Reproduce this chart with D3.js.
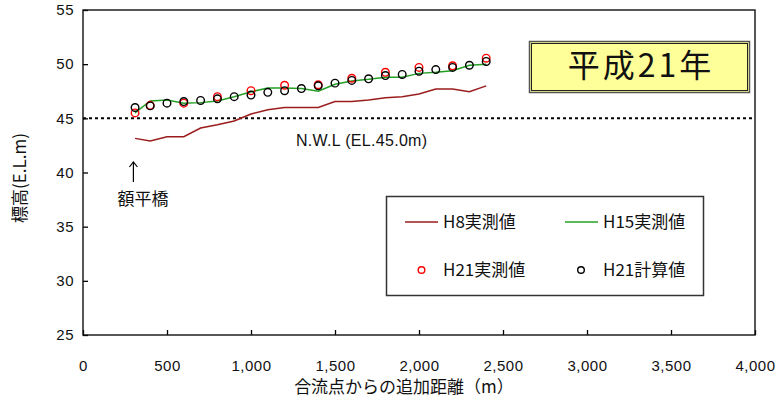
<!DOCTYPE html>
<html>
<head>
<meta charset="utf-8">
<script src="https://cdn.jsdelivr.net/npm/d3@7"></script>
<style>
  html, body { margin: 0; padding: 0; background: #fff; }
  svg { display: block; }
  .num { font-family: "Liberation Sans", Arial, sans-serif; }
  .jp { font-family: "Noto Sans CJK JP", "Liberation Sans", sans-serif; }
</style>
</head>
<body>
<script>
// Longitudinal riverbed profile: distance from the confluence vs elevation
const xTicks = [0, 500, 1000, 1500, 2000, 2500, 3000, 3500, 4000];
const yTicks = [25, 30, 35, 40, 45, 50, 55];

// H8 measured bed (line)
const h8Dist = [310, 400, 500, 600, 700, 800, 900, 1000, 1100, 1200, 1300, 1400, 1500, 1600, 1700, 1800, 1900, 2000, 2100, 2200, 2300, 2400];
const h8Elev = [43.15, 42.9, 43.3, 43.3, 44.1, 44.4, 44.75, 45.4, 45.8, 46.0, 46.0, 46.0, 46.55, 46.55, 46.7, 46.9, 47.0, 47.25, 47.7, 47.7, 47.45, 48.0];

// H15 measured bed (line)
const h15Dist = [310, 400, 500, 600, 700, 800, 900, 1000, 1100, 1200, 1300, 1400, 1500, 1600, 1700, 1800, 1900, 2000, 2100, 2200, 2300, 2400];
const h15Elev = [45.5, 46.6, 46.7, 46.4, 46.45, 46.6, 47.0, 47.45, 47.8, 47.8, 47.75, 47.5, 48.15, 48.45, 48.6, 48.8, 48.8, 49.15, 49.25, 49.4, 49.9, 50.0];

// H21 measured bed (red circles)
const h21MeasDist = [310, 400, 600, 800, 1000, 1200, 1400, 1600, 1800, 2000, 2200, 2400];
const h21MeasElev = [45.5, 46.2, 46.4, 47.0, 47.55, 48.05, 48.1, 48.7, 49.25, 49.7, 49.85, 50.55];

// H21 computed bed (black circles)
const h21CalcDist = [310, 400, 500, 600, 700, 800, 900, 1000, 1100, 1200, 1300, 1400, 1500, 1600, 1700, 1800, 1900, 2000, 2100, 2200, 2300, 2400];
const h21CalcElev = [46.0, 46.15, 46.4, 46.55, 46.65, 46.8, 47.0, 47.15, 47.4, 47.55, 47.75, 48.0, 48.25, 48.5, 48.65, 48.95, 49.05, 49.35, 49.5, 49.7, 49.9, 50.25];

const nwl = 45.0;
const bridgeDist = 300;

const W = 776, H = 399;
const plot = { left: 83, top: 10, right: 755, bottom: 335 };

const svg = d3.select("body").append("svg").attr("width", W).attr("height", H);

const x = d3.scaleLinear().domain([0, 4000]).range([plot.left, plot.right]);
const y = d3.scaleLinear().domain([25, 55]).range([plot.bottom, plot.top]);

const fmt = d3.format(",");

// axes with inward ticks
const gy = svg.append("g").attr("transform", `translate(${plot.left},0)`)
  .call(d3.axisLeft(y).tickValues(yTicks).tickSizeInner(-5).tickSizeOuter(0).tickPadding(9));
const gx = svg.append("g").attr("transform", `translate(0,${plot.bottom})`)
  .call(d3.axisBottom(x).tickValues(xTicks).tickFormat(fmt).tickSizeInner(-5).tickSizeOuter(0).tickPadding(25));
[gx, gy].forEach(g => {
  g.select(".domain").remove();
  g.selectAll(".tick line").attr("stroke", "#000").attr("stroke-width", 1.3);
  g.selectAll(".tick text").attr("class", "num").attr("fill", "#111")
    .style("font-size", "15px").style("letter-spacing", "0.5px");
});
gx.selectAll(".tick text").attr("dy", "0.71em");

// plot frame
svg.append("rect")
  .attr("x", plot.left).attr("y", plot.top)
  .attr("width", plot.right - plot.left).attr("height", plot.bottom - plot.top)
  .attr("fill", "none").attr("stroke", "#111").attr("stroke-width", 1.4);

// normal water level
svg.append("line")
  .attr("x1", plot.left).attr("x2", plot.right)
  .attr("y1", y(nwl)).attr("y2", y(nwl))
  .attr("stroke", "#000").attr("stroke-width", 2).attr("stroke-dasharray", "3,3");
svg.append("text")
  .attr("x", 296).attr("y", 146)
  .style("font-family", "'Liberation Sans', Arial, sans-serif")
  .style("font-size", "16px").style("letter-spacing", "0.3px").attr("fill", "#111")
  .text("N.W.L (EL.45.0m)");

// bridge annotation
const bx = x(bridgeDist);
svg.append("line").attr("x1", bx).attr("x2", bx).attr("y1", 162).attr("y2", 182)
  .attr("stroke", "#000").attr("stroke-width", 1.2);
svg.append("path").attr("d", `M${bx - 4},${167} L${bx},${162} L${bx + 4},${167}`)
  .attr("fill", "none").attr("stroke", "#000").attr("stroke-width", 1.2);
svg.append("text").attr("class", "jp")
  .attr("x", 143).attr("y", 205).attr("text-anchor", "middle")
  .style("font-size", "17px").attr("fill", "#111").text("額平橋");

// series
const line = d3.line().x(d => x(d[0])).y(d => y(d[1]));
const zip = (a, b) => a.map((v, i) => [v, b[i]]);

svg.append("path").datum(zip(h8Dist, h8Elev)).attr("d", line)
  .attr("fill", "none").attr("stroke", "#9b1c1c").attr("stroke-width", 1.5);
svg.append("path").datum(zip(h15Dist, h15Elev)).attr("d", line)
  .attr("fill", "none").attr("stroke", "#24a024").attr("stroke-width", 1.5);

svg.append("g").selectAll("circle").data(zip(h21MeasDist, h21MeasElev)).join("circle")
  .attr("cx", d => x(d[0])).attr("cy", d => y(d[1])).attr("r", 3.8)
  .attr("fill", "none").attr("stroke", "#ff0000").attr("stroke-width", 1.4);
svg.append("g").selectAll("circle").data(zip(h21CalcDist, h21CalcElev)).join("circle")
  .attr("cx", d => x(d[0])).attr("cy", d => y(d[1])).attr("r", 3.8)
  .attr("fill", "none").attr("stroke", "#000").attr("stroke-width", 1.4);

// axis titles
svg.append("text").attr("class", "jp")
  .attr("x", 404).attr("y", 393).attr("text-anchor", "middle")
  .style("font-size", "17px").attr("fill", "#111").text("合流点からの追加距離（m）");
svg.append("text").attr("class", "jp")
  .attr("transform", "translate(26,178) rotate(-90)").attr("text-anchor", "middle")
  .style("font-size", "17px").attr("fill", "#111").text("標高(E.L.m)");

// year label box
const tb = svg.append("g");
tb.append("rect").attr("x", 529.5).attr("y", 41.5).attr("width", 220).attr("height", 51)
  .attr("fill", "#ffff99").attr("stroke", "#555").attr("stroke-width", 1.5);
tb.append("rect").attr("x", 531.5).attr("y", 43.5).attr("width", 216).attr("height", 47)
  .attr("fill", "none").attr("stroke", "#222").attr("stroke-width", 1);
tb.append("text").attr("class", "jp")
  .attr("x", 641).attr("y", 77).attr("text-anchor", "middle")
  .style("font-size", "32px").style("letter-spacing", "3px").attr("fill", "#111").text("平成21年");

// legend
const lg = svg.append("g");
lg.append("rect").attr("x", 386.5).attr("y", 196.5).attr("width", 317).attr("height", 99)
  .attr("fill", "#fff").attr("stroke", "#333").attr("stroke-width", 1.5);
const legendItems = [
  { label: "H8実測値", type: "line", color: "#9b1c1c", lx: 405, tx: 443, ly: 222 },
  { label: "H15実測値", type: "line", color: "#24a024", lx: 565, tx: 603, ly: 222 },
  { label: "H21実測値", type: "circle", color: "#ff0000", lx: 421.5, tx: 443, ly: 270 },
  { label: "H21計算値", type: "circle", color: "#000", lx: 581, tx: 603, ly: 270 }
];
legendItems.forEach(it => {
  if (it.type === "line") {
    lg.append("line").attr("x1", it.lx).attr("x2", it.lx + 33).attr("y1", it.ly).attr("y2", it.ly)
      .attr("stroke", it.color).attr("stroke-width", 1.5);
  } else {
    lg.append("circle").attr("cx", it.lx).attr("cy", it.ly).attr("r", 3.3)
      .attr("fill", "none").attr("stroke", it.color).attr("stroke-width", 1.4);
  }
  lg.append("text").attr("class", "jp").attr("x", it.tx).attr("y", it.ly + 6)
    .style("font-size", "17px").attr("fill", "#111").text(it.label);
});
</script>
</body>
</html>
